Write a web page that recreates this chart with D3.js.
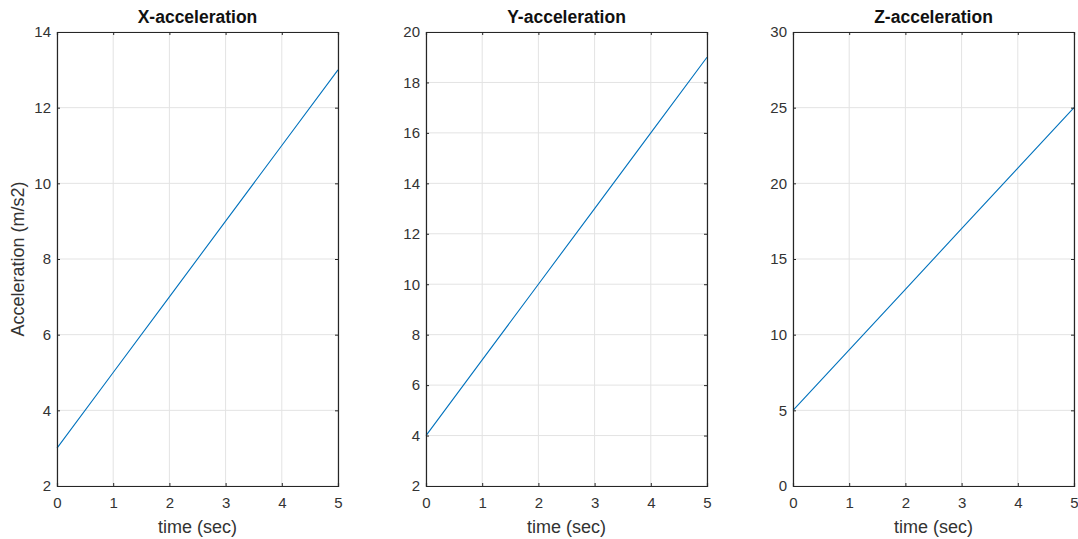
<!DOCTYPE html>
<html>
<head>
<meta charset="utf-8">
<script src="https://cdn.jsdelivr.net/npm/d3@7"></script>
<style>
  html, body { margin: 0; padding: 0; background: #fff; }
  svg { display: block; font-family: "Liberation Sans", Arial, Helvetica, sans-serif; }
</style>
</head>
<body>
<svg id="chart" width="1078" height="539"></svg>
<script>
// Sample times (s)
const time = [0, 1, 2, 3, 4, 5];
// Acceleration along each axis (m/s2)
const accX = [3, 5, 7, 9, 11, 13];
const accY = [4, 7, 10, 13, 16, 19];
const accZ = [5, 9, 13, 17, 21, 25];

const titles = ["X-acceleration", "Y-acceleration", "Z-acceleration"];
const yDomains = [[2, 14], [2, 20], [0, 30]];
const yTickValues = [
  [2, 4, 6, 8, 10, 12, 14],
  [2, 4, 6, 8, 10, 12, 14, 16, 18, 20],
  [0, 5, 10, 15, 20, 25, 30]
];
const xTickValues = [0, 1, 2, 3, 4, 5];
const series = [accX, accY, accZ];

const svg = d3.select("#chart");
const panelLeft = [57, 426, 793];
const panelWidth = 281;
const plotTop = 32, plotBottom = 486;
const axisColor = "#262626";
const tickLen = 3;

series.forEach((vals, i) => {
  const x0 = panelLeft[i];
  const x = d3.scaleLinear().domain([0, 5]).range([x0, x0 + panelWidth]);
  const y = d3.scaleLinear().domain(yDomains[i]).range([plotBottom, plotTop]);
  const g = svg.append("g");

  // grid
  g.append("g").selectAll("line").data(xTickValues).join("line")
    .attr("x1", d => x(d)).attr("x2", d => x(d))
    .attr("y1", plotTop).attr("y2", plotBottom)
    .attr("stroke", "#e3e3e3").attr("stroke-width", 1);
  g.append("g").selectAll("line").data(yTickValues[i]).join("line")
    .attr("x1", x0).attr("x2", x0 + panelWidth)
    .attr("y1", d => y(d)).attr("y2", d => y(d))
    .attr("stroke", "#e3e3e3").attr("stroke-width", 1);

  // data line
  const line = d3.line().x((d, j) => x(time[j])).y(d => y(d));
  g.append("path").datum(vals)
    .attr("d", line)
    .attr("fill", "none")
    .attr("stroke", "#0072BD")
    .attr("stroke-width", 1.1);

  // axes (ticks pointing inward), box on
  const bottomAx = d3.axisBottom(x).tickValues(xTickValues).tickSize(-tickLen).tickPadding(8).tickFormat(d3.format("d"));
  const topAx = d3.axisTop(x).tickValues(xTickValues).tickSize(-tickLen).tickFormat("");
  const leftAx = d3.axisLeft(y).tickValues(yTickValues[i]).tickSize(-tickLen).tickPadding(6).tickFormat(d3.format("d"));
  const rightAx = d3.axisRight(y).tickValues(yTickValues[i]).tickSize(-tickLen).tickFormat("");

  const styleAxis = sel => {
    sel.attr("font-size", null).attr("font-family", null);
    sel.selectAll(".domain").attr("stroke", axisColor).attr("stroke-width", 1.2);
    sel.selectAll(".tick line").attr("stroke", axisColor);
    sel.selectAll(".tick text").attr("fill", "#333").attr("font-size", 15);
  };

  g.append("g").attr("transform", `translate(0,${plotBottom})`).call(bottomAx).call(styleAxis)
    .selectAll(".tick text").attr("dy", "0.93em");
  g.append("g").attr("transform", `translate(0,${plotTop})`).call(topAx).call(styleAxis);
  g.append("g").attr("transform", `translate(${x0},0)`).call(leftAx).call(styleAxis);
  g.append("g").attr("transform", `translate(${x0 + panelWidth},0)`).call(rightAx).call(styleAxis);

  // title
  g.append("text")
    .attr("x", x0 + panelWidth / 2).attr("y", 23)
    .attr("text-anchor", "middle")
    .attr("font-weight", "bold")
    .attr("font-size", 17.5)
    .attr("fill", "#111")
    .text(titles[i]);

  // x label
  g.append("text")
    .attr("x", x0 + panelWidth / 2).attr("y", 533)
    .attr("text-anchor", "middle")
    .attr("font-size", 18)
    .attr("fill", "#333")
    .text("time (sec)");
});

// y label on the first panel
svg.append("text")
  .attr("transform", `translate(24,${(plotTop + plotBottom) / 2}) rotate(-90)`)
  .attr("text-anchor", "middle")
  .attr("font-size", 18)
  .attr("fill", "#333")
  .text("Acceleration (m/s2)");
</script>
</body>
</html>
